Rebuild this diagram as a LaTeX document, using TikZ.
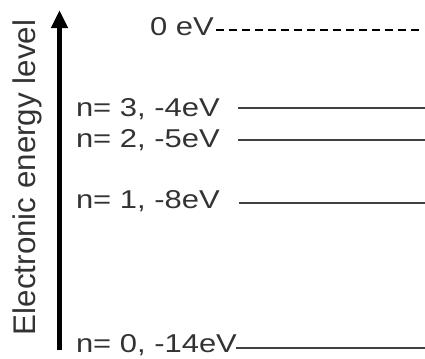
\documentclass[tikz,border=0pt]{standalone}
\usepackage{fontspec}
\setmainfont{Liberation Sans}
\usetikzlibrary{arrows.meta}
\tikzset{
  lab/.style={inner sep=0pt, outer sep=0pt, anchor=base west, text=black!80,
    font=\fontsize{19.35pt}{22pt}\selectfont},
  lvl/.style={draw=black!75, line width=1.5pt},
  zero/.style={draw=black, line width=2.2pt, dash pattern=on 6pt off 3.75pt},
  axisarrow/.style={draw=black, line width=3.75pt, -{Triangle[width=12pt,length=13.5pt]}}
}
\newcommand{\wide}[1]{\scalebox{1.2}[1]{#1}}
\begin{document}
\begin{tikzpicture}[x=0.75pt,y=-0.75pt]
\useasboundingbox (0,0) rectangle (425,358);
% axis
\coordinate (abot) at (59.5,350);
\coordinate (atop) at (59.5,10);
\draw[axisarrow] (abot) -- (atop);
\node[lab, rotate=90, font=\fontsize{23.5pt}{26pt}\selectfont] (ylab) at (36,335) {Electronic energy level};
% labels
\node[lab] (z) at (150,35) {\wide{0 eV}};
\node[lab] (n3) at (76,116.5) {\wide{n= 3, -4eV}};
\node[lab] (n2) at (76,147) {\wide{n= 2, -5eV}};
\node[lab] (n1) at (76,208) {\wide{n= 1, -8eV}};
\node[lab] (n0) at (76,352) {\wide{n= 0, -14eV}};
% level lines
\coordinate (zs) at (216,30);  \coordinate (ze) at (421,30);
\coordinate (s3) at (238,108); \coordinate (e3) at (425,108);
\coordinate (s2) at (238,140); \coordinate (e2) at (425,140);
\coordinate (s1) at (239,203); \coordinate (e1) at (425,203);
\coordinate (s0) at (236,348); \coordinate (e0) at (425,348);
\draw[zero] (zs) -- (ze);
\draw[lvl] (s3) -- (e3);
\draw[lvl] (s2) -- (e2);
\draw[lvl] (s1) -- (e1);
\draw[lvl] (s0) -- (e0);
\end{tikzpicture}
\end{document}
